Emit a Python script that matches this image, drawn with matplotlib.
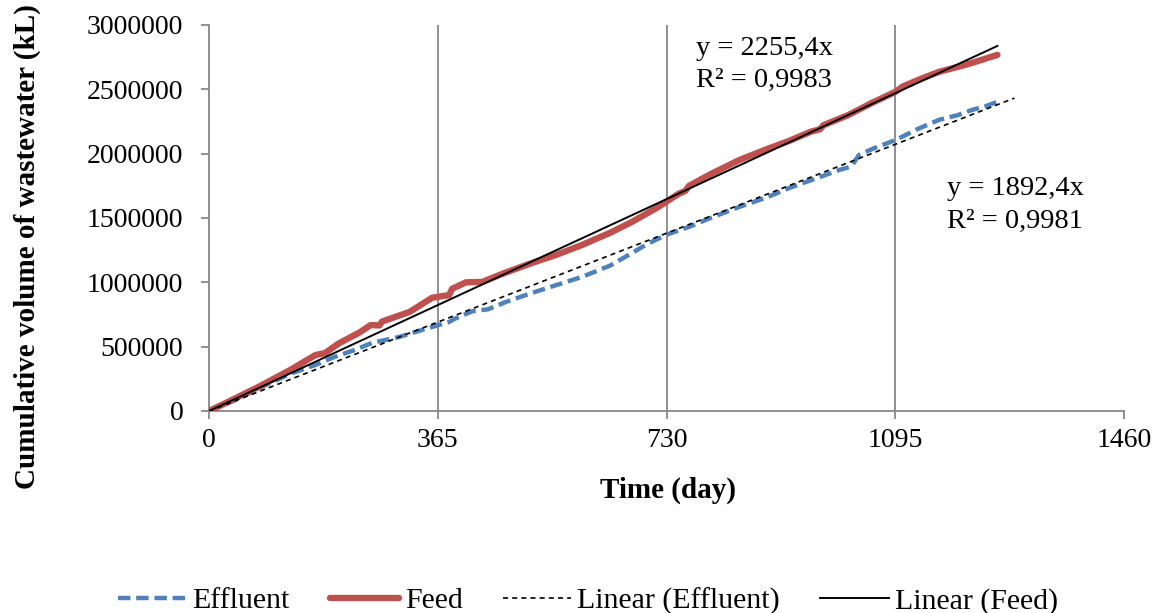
import numpy as np
import matplotlib
matplotlib.use("Agg")
import matplotlib.pyplot as plt

plt.rcParams["font.family"] = ["Liberation Serif", "DejaVu Serif"]

# Cumulative feed volume (kL) by day
feed_days = [0, 30, 80, 130, 170, 185, 207, 240, 258, 272, 276, 320, 356, 375, 383, 388,
             410, 436, 470, 515, 555, 595, 640, 675, 715, 750, 760, 766, 800, 846, 890,
             926, 960, 975, 980, 1020, 1058, 1095, 1101, 1106, 1135, 1165, 1195, 1218,
             1240, 1258]
feed_vol = [0, 70000, 190000, 320000, 435000, 450000, 525000, 610000, 668000, 665000,
            695000, 770000, 880000, 895000, 900000, 950000, 1000000, 1003000, 1070000,
            1150000, 1215000, 1290000, 1385000, 1470000, 1580000, 1690000, 1710000,
            1750000, 1840000, 1950000, 2035000, 2100000, 2170000, 2190000, 2220000,
            2300000, 2395000, 2480000, 2500000, 2520000, 2580000, 2636000, 2675000,
            2706000, 2740000, 2768000]

# Cumulative effluent volume (kL) by day
eff_days = [0, 40, 90, 130, 170, 200, 230, 260, 303, 340, 383, 386, 390, 420, 436, 445,
            475, 515, 555, 595, 640, 675, 700, 730, 766, 800, 846, 890, 926, 970, 1006,
            1025, 1037, 1060, 1096, 1130, 1165, 1195, 1218, 1240, 1258]
eff_vol = [0, 80000, 200000, 290000, 358000, 420000, 470000, 529000, 575000, 630000,
           692000, 700000, 712000, 775000, 785000, 790000, 850000, 917000, 980000,
           1042000, 1130000, 1228000, 1300000, 1370000, 1431000, 1500000, 1586000,
           1660000, 1734000, 1810000, 1874000, 1900000, 1990000, 2040000, 2107000,
           2190000, 2263000, 2300000, 2341000, 2370000, 2403000]

# Linear trend fits through the origin
feed_slope, feed_r2 = 2255.4, "0,9983"
eff_slope, eff_r2 = 1892.4, "0,9981"
feed_trend_end = 1258
eff_trend_end = 1285

x_ticks = [0, 365, 730, 1095, 1460]
y_ticks = [0, 500000, 1000000, 1500000, 2000000, 2500000, 3000000]

RED = "#C0504D"
BLUE = "#4F81BD"
GRAY = "#878787"

fig = plt.figure(figsize=(11.63, 6.13), dpi=100)
ax = fig.add_axes([209 / 1163, 1 - 411 / 613, 915 / 1163, 386 / 613])

ax.plot(eff_days, eff_vol, color=BLUE, lw=3.2, dashes=(2.8, 1.3),
        solid_capstyle="butt", dash_capstyle="butt", label="Effluent", zorder=3)
ax.plot(feed_days, feed_vol, color=RED, lw=4.6, solid_capstyle="round",
        label="Feed", zorder=3)

xe = np.array([0, eff_trend_end])
xf = np.array([0, feed_trend_end])
ax.plot(xe, eff_slope * xe, color="black", lw=1.2, dashes=(3, 2.5),
        label="Linear (Effluent)", zorder=4)
ax.plot(xf, feed_slope * xf, color="black", lw=1.4, label="Linear (Feed)", zorder=4)

ax.set_xlim(0, 1460)
ax.set_ylim(0, 3000000)
ax.set_xticks(x_ticks)
ax.set_yticks(y_ticks)
ax.set_xticklabels([str(v) for v in x_ticks])
ax.set_yticklabels([str(v) for v in y_ticks])

for s in ("top", "right"):
    ax.spines[s].set_visible(False)
for s in ("left", "bottom"):
    ax.spines[s].set_color(GRAY)
    ax.spines[s].set_linewidth(1.3)
ax.tick_params(axis="both", direction="out", length=5.5, width=1.3, color=GRAY,
               labelsize=20)
ax.tick_params(axis="x", pad=7)
ax.tick_params(axis="y", pad=13)
for xv in x_ticks[1:-1]:
    ax.axvline(xv, color=GRAY, lw=1.3, zorder=1)

ax.set_xlabel("Time (day)", fontsize=21, fontweight="bold", va="center")
ax.set_ylabel("Cumulative volume of wastewater (kL)", fontsize=21, fontweight="bold",
              va="center")
ax.xaxis.set_label_coords(0.502, -0.205)
ax.yaxis.set_label_coords(-0.198, 0.427)

ax.text(777, 2768000, f"y = {str(feed_slope).replace('.', ',')}x", fontsize=20.5,
        va="baseline", ha="left")
ax.text(777, 2519000, f"R² = {feed_r2}", fontsize=20.5, va="baseline", ha="left")
ax.text(1178, 1680000, f"y = {str(eff_slope).replace('.', ',')}x", fontsize=20.5,
        va="baseline", ha="left")
ax.text(1178, 1423000, f"R² = {eff_r2}", fontsize=20.5, va="baseline", ha="left")

fig.legend(loc="center", bbox_to_anchor=(588 / 1163, 1 - 601 / 613), ncol=4,
           frameon=False, fontsize=21.5, handlelength=2.3, handletextpad=0.2,
           columnspacing=1.35)

fig.savefig("out.png", dpi=100)
